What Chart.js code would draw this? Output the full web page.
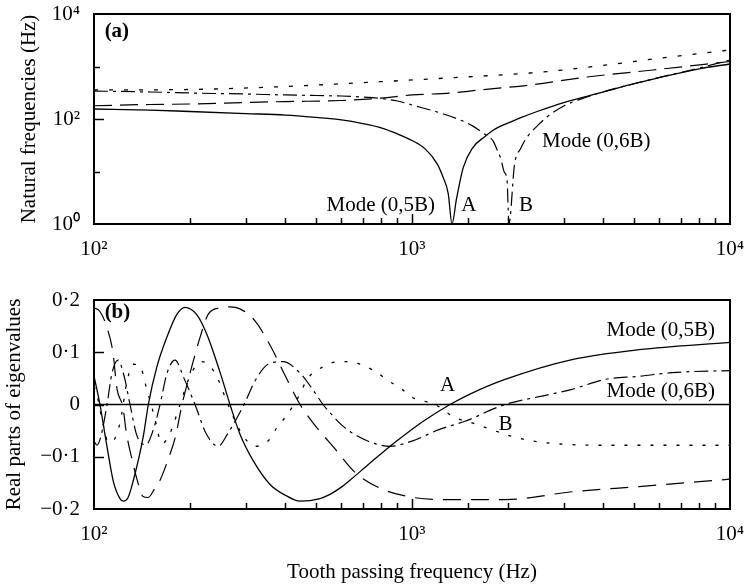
<!DOCTYPE html>
<html><head><meta charset="utf-8">
<script src="https://cdn.jsdelivr.net/npm/chart.js@4.4.1/dist/chart.umd.min.js"></script>
<style>
html,body{margin:0;padding:0;background:#fff;}
#wrap{position:relative;width:744px;height:587px;background:#fff;}
canvas{position:absolute;left:0;}
</style></head><body>
<div id="wrap">
<canvas id="ca" width="744" height="290" style="top:0;width:744px;height:290px"></canvas>
<canvas id="cb" width="744" height="297" style="top:290px;width:744px;height:297px"></canvas>
</div>
<script>
// ---------- Panel (a): natural frequencies (Hz) vs tooth passing frequency ----------
const aSolidF = [100,150,200,300,400,500,600,700,800,900,1000,1100,1200,1250,1300,1336,1380,1450,1550,1700,1800,1900,2018,2200,2500,3000,4000,5000,6000,8000,10000];
const aSolidV = [155,148,139,127,119,107,96,82,68,52,39,27,14,8,3.8,1,3,12,28,47,61,73,85,106,142,206,327,470,615,904,1117];

const aDashDotF = [100,150,200,300,400,500,600,700,800,900,1000,1200,1416,1550,1672,1800,1851,1900,1950,1990,2018,2100,2200,2299,2500,2658,3000,3550,4000,5099,6000,8000,10000];
const aDashDotV = [341,327,313,299,287,280,274,262,245,220,185,136,96,74,54,38,26,18,9.8,6.9,1,13.3,28,45,78,109,177,262,330,485,620,936,1330];

const aLongDashF = [100,150,200,300,400,600,800,1000,1330,1636,2350,3550,5727,10000];
const aLongDashV = [179,189,193,206,215,225,250,287,313,357,444,631,858,1245];

const aDottedF = [100,200,385,793,1290,2350,3000,4508,6000,10000];
const aDottedV = [357,365,412,513,604,752,860,1151,1439,2061];

// ---------- Panel (b): real parts of eigenvalues ----------
const bSolidF = [100,104.4,109.6,115,120.7,123.7,128,133,143,148.2,157.5,169.3,182,193.3,210.4,226.2,249,267.7,287.8,316.9,357.7,403.6,444.5,513.6,552,593.5,638,738,895,1085,1317,1522,1961,3186,5174,10000];
const bSolidV = [0.055,0,-0.077,-0.147,-0.18,-0.185,-0.178,-0.145,-0.06,0,0.071,0.128,0.172,0.186,0.172,0.135,0.062,0,-0.057,-0.108,-0.153,-0.175,-0.185,-0.18,-0.172,-0.16,-0.145,-0.112,-0.07,-0.032,0,0.02,0.048,0.086,0.105,0.119];

const bLongDashF = [100,104.4,109.9,114.7,118.1,123.4,126.1,131.7,137.5,142.6,147.8,155.5,161.3,172.2,179.8,189.2,200.4,215.4,228.3,249,267.7,287.8,320.8,360.3,395.8,444.5,495.5,572.8,662.1,793.3,950.6,1225,1961,3186,5174,10000];
const bLongDashV = [0.185,0.178,0.147,0.1,0.03,-0.006,-0.05,-0.105,-0.15,-0.176,-0.178,-0.16,-0.145,-0.1,-0.065,0,0.06,0.128,0.172,0.185,0.187,0.183,0.16,0.11,0.06,0,-0.04,-0.085,-0.13,-0.16,-0.175,-0.182,-0.182,-0.167,-0.157,-0.143];

const bDashDotF = [100,102.2,105.2,109.9,113.9,119,124.3,129.8,136.5,145.7,153.3,161.3,169.7,179.8,191.9,207.8,225,245.4,263.9,296.3,320.8,352.6,393,444.5,488.3,525,560.5,602.6,671.4,765.1,852.7,1000,1216,1468,1961,2508,3186,4045,5174,6572,10000];
const bDashDotV = [-0.07,-0.078,-0.06,0,0.06,0.085,0.055,0,-0.06,-0.077,-0.05,0,0.06,0.085,0.05,0,-0.055,-0.08,-0.055,0,0.045,0.077,0.082,0.06,0.028,0,-0.02,-0.04,-0.06,-0.075,-0.08,-0.07,-0.048,-0.032,0,0.015,0.029,0.048,0.054,0.061,0.065];

const bDottedF = [100,102.2,104.4,107.5,110.7,114.7,120.7,127,132.6,139.5,145.7,154.4,163.6,173.4,186.5,200.4,218.6,240.2,263.9,287.8,320.8,352.6,376.3,404.5,444.5,467.6,521.2,585.4,638.4,701.6,776.2,840.5,930.1,1007,1181,1365,1545,1759,2063,2526,4045,10000];
const bDottedV = [0.035,0.019,-0.01,-0.045,-0.072,-0.07,-0.035,0.044,0.077,0.074,0.035,-0.02,-0.075,-0.055,0,0.055,0.082,0.06,0,-0.05,-0.08,-0.07,-0.044,-0.02,0.02,0.048,0.071,0.082,0.082,0.075,0.061,0.046,0.029,0.013,0,-0.025,-0.035,-0.047,-0.061,-0.072,-0.078,-0.078];

const zeroLineF = [100,10000];
const zeroLineV = [0,0];

// ---------- tick labels ----------
const xTickValues = [100,1000,10000];
const xTickLabels = ['10\u00B2','10\u00B3','10\u2074'];
const aYTickValues = [1,100,10000];
const aYTickLabels = ['10\u2070','10\u00B2','10\u2074'];
const bYTickValues = [0.2,0.1,0,-0.1,-0.2];
const bYTickLabels = ['0\u00B72','0\u00B71','0','\u22120\u00B71','\u22120\u00B72'];

// ---------- annotations (data coordinates) ----------
const notesA = [
  {t:'(a)', x:108, y:4600, align:'left', bold:true},
  {t:'Mode (0,5B)', x:1181, y:2.3, align:'right'},
  {t:'A', x:1510, y:2.3, align:'center'},
  {t:'B', x:2283, y:2.3, align:'center'},
  {t:'Mode (0,6B)', x:2564, y:37, align:'left'}
];
const notesB = [
  {t:'(b)', x:108, y:0.175, align:'left', bold:true},
  {t:'Mode (0,5B)', x:8970, y:0.1407, align:'right'},
  {t:'Mode (0,6B)', x:8970, y:0.024, align:'right'},
  {t:'A', x:1293, y:0.036, align:'center'},
  {t:'B', x:1968, y:-0.038, align:'center'}
];

const FONT = "'Liberation Serif','Times New Roman',serif";
const pts = (F,V) => F.map((f,i)=>({x:f,y:V[i]}));
const isPow10 = v => Math.abs(Math.log10(v) - Math.round(Math.log10(v))) < 1e-9;

function ds(F,V,dash,w){
  return {data:pts(F,V), borderColor:'#000', borderWidth:w||1.2, borderDash:dash, pointRadius:0,
          fill:false, cubicInterpolationMode:'monotone', tension:0.4};
}

const framePlugin = {
  id:'frame',
  afterDatasetsDraw(chart, args, opts){
    const {ctx, chartArea:a, scales} = chart;
    ctx.save();
    ctx.strokeStyle='#000';
    ctx.lineWidth=1.5;
    const xs = scales.x, ys = scales.y;
    xs.ticks.forEach(t=>{
      const v=t.value; if(v<=xs.min||v>=xs.max) return;
      const px = Math.round(xs.getPixelForValue(v))+0.5;
      const len = isPow10(v)?10:6;
      ctx.beginPath(); ctx.moveTo(px,a.bottom); ctx.lineTo(px,a.bottom-len); ctx.stroke();
    });
    ys.ticks.forEach(t=>{
      const v=t.value; if(v<=ys.min||v>=ys.max) return;
      let len;
      if(opts.logY){ if(!isPow10(v)) return; len = (Math.abs(Math.log10(v)-2)<1e-9)?10:6; }
      else { len = 10; }
      const py = Math.round(ys.getPixelForValue(v))+0.5;
      ctx.beginPath(); ctx.moveTo(a.left,py); ctx.lineTo(a.left+len,py); ctx.stroke();
    });
    ctx.lineWidth=2;
    ctx.strokeRect(a.left, a.top, a.right-a.left, a.bottom-a.top);
    ctx.fillStyle='#000';
    ctx.textBaseline='middle';
    (opts.notes||[]).forEach(n=>{
      ctx.font = (n.bold?'bold ':'') + '21px ' + FONT;
      ctx.textAlign = n.align;
      ctx.fillText(n.t, xs.getPixelForValue(n.x), ys.getPixelForValue(n.y));
    });
    ctx.restore();
  }
};

function xAxis(height, withTitle){
  return {
    type:'logarithmic', min:100, max:10000,
    grid:{display:false, drawTicks:false}, border:{display:false},
    ticks:{autoSkip:false, maxRotation:0, padding:13, color:'#000', font:{family:FONT,size:21},
      callback:(v)=>{const i=xTickValues.indexOf(v); return i>=0?xTickLabels[i]:'';}},
    title: withTitle ? {display:true, text:'Tooth passing frequency (Hz)', color:'#000',
      font:{family:FONT,size:21}, padding:{top:0,bottom:2}} : {display:false},
    afterFit:(s)=>{s.height=height; s.paddingLeft=0; s.paddingRight=0;}
  };
}

new Chart(document.getElementById('ca'), {
  type:'line',
  data:{datasets:[
    ds(aDottedF,aDottedV,[4,11],1.3),
    ds(aLongDashF,aLongDashV,[18,8],1.2),
    ds(aDashDotF,aDashDotV,[14,5,3,5],1.2),
    ds(aSolidF,aSolidV,[],1.3)
  ]},
  options:{
    responsive:false, animation:false, devicePixelRatio:1,
    layout:{padding:{left:0,right:14,top:14,bottom:0}},
    plugins:{legend:{display:false}, tooltip:{enabled:false}, frame:{notes:notesA, logY:true}},
    scales:{
      x: xAxis(66,false),
      y:{type:'logarithmic', min:1, max:10000,
        grid:{display:false, drawTicks:false}, border:{display:false},
        ticks:{autoSkip:false, padding:14, color:'#000', font:{family:FONT,size:21},
          callback:(v)=>{const i=aYTickValues.indexOf(v); return i>=0?aYTickLabels[i]:'';}},
        title:{display:true, text:'Natural frequencies (Hz)', color:'#000', font:{family:FONT,size:21}, padding:{top:17,bottom:0}},
        afterFit:(s)=>{s.width=94; s.paddingTop=0; s.paddingBottom=0;}
      }
    }
  },
  plugins:[framePlugin]
});

new Chart(document.getElementById('cb'), {
  type:'line',
  data:{datasets:[
    ds(zeroLineF,zeroLineV,[],1.5),
    ds(bDottedF,bDottedV,[3,10],1.3),
    ds(bLongDashF,bLongDashV,[18,10],1.2),
    ds(bDashDotF,bDashDotV,[14,5,3,5],1.2),
    ds(bSolidF,bSolidV,[],1.3)
  ]},
  options:{
    responsive:false, animation:false, devicePixelRatio:1,
    layout:{padding:{left:0,right:14,top:10,bottom:0}},
    plugins:{legend:{display:false}, tooltip:{enabled:false}, frame:{notes:notesB, logY:false}},
    scales:{
      x: xAxis(78,true),
      y:{type:'linear', min:-0.2, max:0.2,
        grid:{display:false, drawTicks:false}, border:{display:false},
        ticks:{stepSize:0.1, autoSkip:false, padding:14, color:'#000', font:{family:FONT,size:21},
          callback:(v)=>{const i=bYTickValues.findIndex(t=>Math.abs(t-v)<1e-9); return i>=0?bYTickLabels[i]:'';}},
        title:{display:true, text:'Real parts of eigenvalues', color:'#000', font:{family:FONT,size:21}, padding:{top:2,bottom:0}},
        afterFit:(s)=>{s.width=94; s.paddingTop=0; s.paddingBottom=0;}
      }
    }
  },
  plugins:[framePlugin]
});
</script></body></html>
